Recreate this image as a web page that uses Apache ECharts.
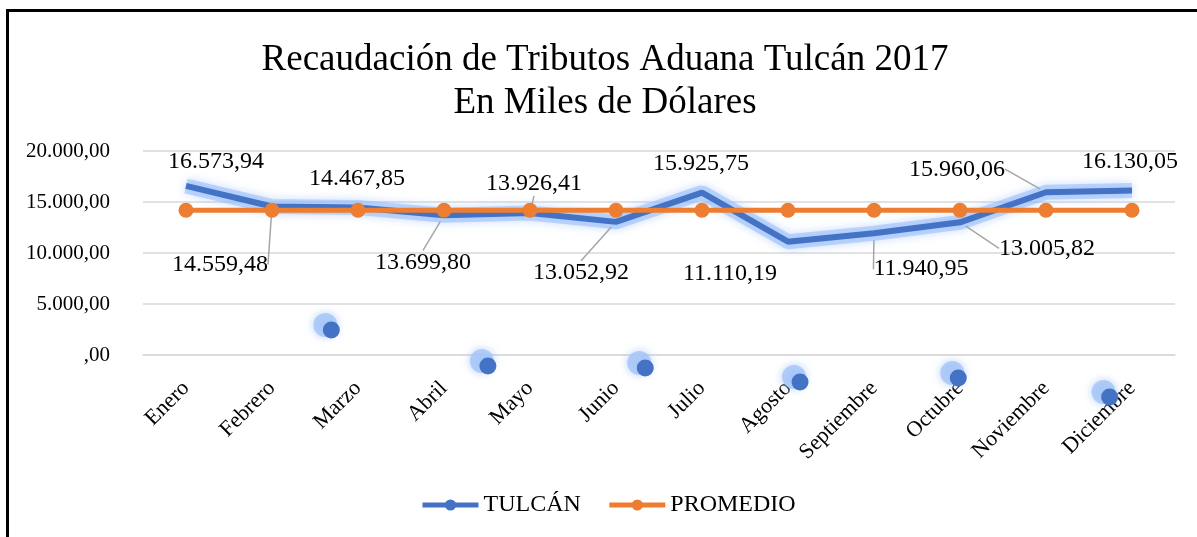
<!DOCTYPE html>
<html><head><meta charset="utf-8">
<script src="https://cdn.jsdelivr.net/npm/echarts@6/dist/echarts.min.js"></script>
<style>html,body{margin:0;padding:0;background:#fff;}#c{width:1197px;height:537px;}</style>
</head><body><div id="c"></div>
<script>
const categories = ['Enero','Febrero','Marzo','Abril','Mayo','Junio','Julio','Agosto','Septiembre','Octubre','Noviembre','Diciembre'];
const tulcan = [16573.94,14559.48,14467.85,13699.80,13926.41,13052.92,15925.75,11110.19,11940.95,13005.82,15960.06,16130.05];
const promedio = [14196.10,14196.10,14196.10,14196.10,14196.10,14196.10,14196.10,14196.10,14196.10,14196.10,14196.10,14196.10];
const yTicks = [0,5000,10000,15000,20000];
const yTickLabels = [',00','5.000,00','10.000,00','15.000,00','20.000,00'];
// stray marker artifacts visible in the reference (category-index x, value y)
const strayX = [1.69,3.51,5.34,7.14,8.98,10.74];
const strayY = [2450,-1080,-1270,-2650,-2250,-4120];

const labelOffsets = [[30,0],[-52,82],[-1,-5],[-21,71],[4,-5],[-35,75],[-1,-5],[-58,56],[47,60],[87,50],[-89,1],[-2,-5]];
const leader = [false,true,false,true,true,true,false,false,true,true,true,false];

function fmt(v){
  const s = v.toFixed(2).split('.');
  return s[0].replace(/\B(?=(\d{3})+(?!\d))/g,'.') + ',' + s[1];
}
const font = '"Liberation Serif","Times New Roman",serif';
const chart = echarts.init(document.getElementById('c'));
chart.setOption({
  animation:false,
  title:{text:'Recaudación de Tributos Aduana Tulcán 2017\nEn Miles de Dólares',left:600,top:34,textAlign:'center',
    textStyle:{fontFamily:font,fontWeight:'normal',fontSize:37,color:'#000',lineHeight:43}},
  graphic:[{type:'rect',shape:{x:7.5,y:10.5,width:1300,height:600},style:{fill:'none',stroke:'#000',lineWidth:3},silent:true}],
  legend:{bottom:15,left:415,itemWidth:56,itemHeight:14,itemGap:26,
    lineStyle:{width:5},
    textStyle:{fontFamily:font,fontSize:24,color:'#000'},data:['TULCÁN','PROMEDIO']},
  grid:{left:143,right:22,top:151,bottom:182,containLabel:false},
  xAxis:[{type:'category',data:categories,boundaryGap:true,
    axisLine:{lineStyle:{color:'#D9D9D9',width:1.5}},axisTick:{show:false},
    axisLabel:{rotate:45,fontFamily:font,fontSize:22,color:'#000',margin:30}},
    {type:'value',min:-0.5,max:11.5,show:false}],
  yAxis:{type:'value',min:0,max:20000,interval:5000,
    axisLine:{show:false},axisTick:{show:false},
    splitLine:{lineStyle:{color:'#D9D9D9',width:1.5}},
    axisLabel:{fontFamily:font,fontSize:21,color:'#000',margin:33,
      formatter:v=>yTickLabels[yTicks.indexOf(v)]}},
  series:[
    {name:'glow',type:'line',data:tulcan,showSymbol:false,silent:true,z:1,
      lineStyle:{color:'rgba(150,188,250,0.55)',width:15,shadowColor:'rgba(150,188,250,0.9)',shadowBlur:10}},
    {name:'TULCÁN',type:'line',data:tulcan.map((v,i)=>({value:v,labelLine:{show:leader[i]},itemStyle:{color:'rgba(0,0,0,0)',borderWidth:0}})),
      symbol:'circle',symbolSize:14,showSymbol:true,z:2,
      itemStyle:{color:'#4472C4'},
      lineStyle:{color:'#4472C4',width:6},
      label:{show:true,position:'top',distance:5,fontFamily:font,fontSize:24,color:'#000',formatter:p=>fmt(p.value)},
      labelLine:{lineStyle:{color:'#A6A6A6',width:1.5}},
      labelLayout:p=>({dx:labelOffsets[p.dataIndex][0],dy:labelOffsets[p.dataIndex][1]})},
    {name:'PROMEDIO',type:'line',data:promedio,symbol:'circle',symbolSize:15,z:3,
      itemStyle:{color:'#ED7D31'},lineStyle:{color:'#ED7D31',width:5}},
    {name:'strayGlow',type:'scatter',xAxisIndex:1,data:strayX.map((x,i)=>[x,strayY[i]]),
      symbolSize:24,symbolOffset:[-6,-5],clip:false,z:3,silent:true,
      itemStyle:{color:'rgb(165,198,248)',shadowColor:'rgba(165,198,248,1)',shadowBlur:8}},
    {name:'stray',type:'scatter',xAxisIndex:1,data:strayX.map((x,i)=>[x,strayY[i]]),
      symbolSize:17,clip:false,zlevel:1,z:5,itemStyle:{color:'#4472C4',opacity:1}}
  ]
});
</script></body></html>
